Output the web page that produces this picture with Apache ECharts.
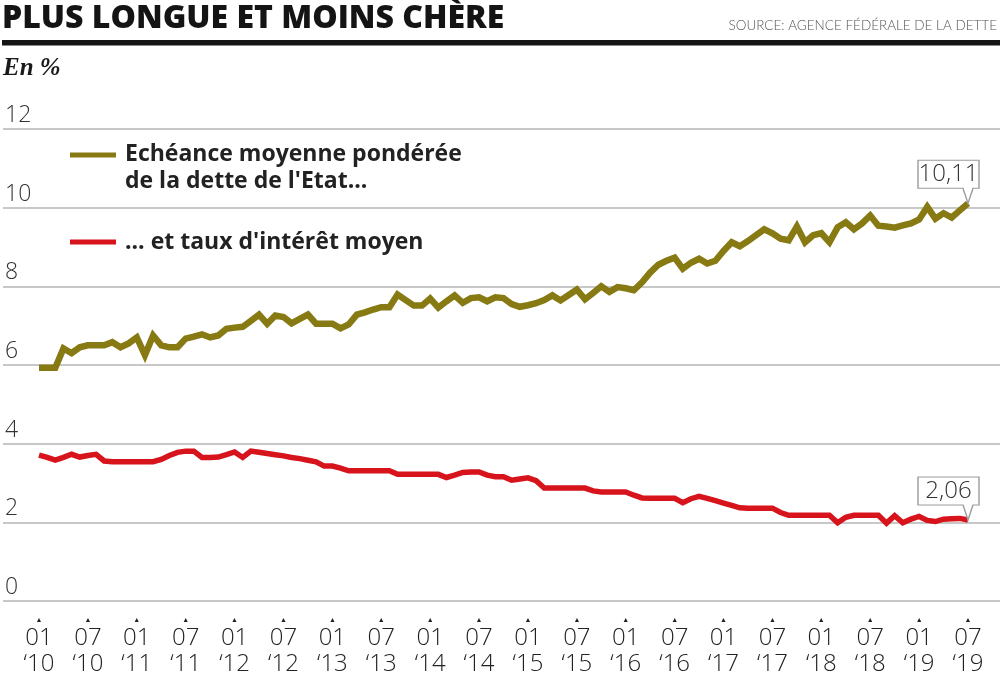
<!DOCTYPE html>
<html><head><meta charset="utf-8">
<script src="https://cdn.jsdelivr.net/npm/echarts@6/dist/echarts.min.js"></script>
<style>html,body{margin:0;padding:0;background:#fff}#c{width:1000px;height:682px}</style>
</head><body><div id="c"></div>
<script>
// ---- data ----
const startYear = 2010;
const monthCount = 115; // Jan 2010 .. Jul 2019
const maturity = [
  5.93, 5.93, 5.93, 6.42, 6.30, 6.45, 6.50, 6.50, 6.50, 6.58,
  6.45, 6.55, 6.70, 6.25, 6.75, 6.50, 6.45, 6.45, 6.67, 6.72,
  6.78, 6.70, 6.75, 6.92, 6.95, 6.97, 7.12, 7.28, 7.05, 7.26,
  7.22, 7.06, 7.17, 7.28, 7.05, 7.05, 7.05, 6.93, 7.03, 7.28,
  7.34, 7.41, 7.47, 7.47, 7.79, 7.65, 7.51, 7.51, 7.69, 7.46,
  7.62, 7.77, 7.58, 7.70, 7.72, 7.62, 7.72, 7.70, 7.55, 7.48,
  7.52, 7.57, 7.65, 7.77, 7.64, 7.78, 7.92, 7.67, 7.83, 8.00,
  7.86, 7.98, 7.95, 7.90, 8.10, 8.35, 8.55, 8.65, 8.73, 8.45,
  8.60, 8.70, 8.58, 8.65, 8.90, 9.12, 9.02, 9.15, 9.30, 9.45,
  9.35, 9.21, 9.17, 9.52, 9.12, 9.30, 9.35, 9.12, 9.50, 9.63,
  9.45, 9.60, 9.80, 9.54, 9.52, 9.49, 9.55, 9.60, 9.70, 10.02,
  9.72, 9.86, 9.75, 9.93, 10.11
];
const rate = [
  3.71, 3.65, 3.58, 3.65, 3.73, 3.66, 3.70, 3.73, 3.56, 3.54,
  3.54, 3.54, 3.54, 3.54, 3.54, 3.60, 3.70, 3.78, 3.81, 3.81,
  3.65, 3.65, 3.66, 3.72, 3.79, 3.65, 3.81, 3.78, 3.75, 3.72,
  3.69, 3.65, 3.62, 3.58, 3.54, 3.43, 3.43, 3.38, 3.31, 3.31,
  3.31, 3.31, 3.31, 3.31, 3.22, 3.22, 3.22, 3.22, 3.22, 3.22,
  3.14, 3.20, 3.27, 3.28, 3.28, 3.20, 3.16, 3.16, 3.07, 3.10,
  3.13, 3.06, 2.87, 2.87, 2.87, 2.87, 2.87, 2.87, 2.80, 2.77,
  2.77, 2.77, 2.77, 2.69, 2.62, 2.61, 2.61, 2.61, 2.61, 2.50,
  2.60, 2.66, 2.61, 2.55, 2.49, 2.43, 2.37, 2.36, 2.36, 2.36,
  2.36, 2.25, 2.18, 2.18, 2.18, 2.18, 2.18, 2.18, 1.99, 2.13,
  2.18, 2.18, 2.18, 2.18, 1.98, 2.17, 1.99, 2.08, 2.15, 2.05,
  2.02, 2.08, 2.09, 2.10, 2.06
];
const seriesNames = ["Echéance moyenne pondérée\nde la dette de l'Etat...", "... et taux d'intérêt moyen"];
const seriesColors = ['#877a12', '#d7131c'];
const yMin = 0, yMax = 12, yStep = 2;
const labelEvery = 6;
const titleText = 'PLUS LONGUE ET MOINS CHÈRE';
const sourceText = 'SOURCE: AGENCE FÉDÉRALE DE LA DETTE';
const unitText = 'En %';

const months = [];
for (let i = 0; i < monthCount; i++) {
  const y = startYear + Math.floor(i / 12);
  const m = (i % 12) + 1;
  months.push(String(m).padStart(2, '0') + '|' + String(y).slice(2));
}

const numFont = "'Open Sans', sans-serif";
const calloutPath = 'path://M0,0H61V28H55L50,43L45,28H0Z';

function callout(value) {
  return {
    symbol: calloutPath,
    symbolSize: [61, 43],
    symbolKeepAspect: false,
    symbolOffset: [-19.5, -21.5],
    silent: true,
    itemStyle: { color: '#fff', borderColor: '#9c9c9c', borderWidth: 1.2 },
    label: {
      show: true, position: 'inside', offset: [0, -7.5],
      formatter: () => value.toFixed(2).replace('.', ','),
      fontFamily: numFont, fontWeight: 300, fontSize: 24, color: '#333'
    },
    data: [{ coord: [monthCount - 1, value] }]
  };
}

const chart = echarts.init(document.getElementById('c'), null, { renderer: 'canvas' });
chart.setOption({
  animation: false,
  backgroundColor: '#fff',
  grid: [
    { left: 3, right: 0, top: 129, bottom: 81 },
    { left: 39, right: 32, top: 129, bottom: 81 }
  ],
  xAxis: [
    { gridIndex: 0, type: 'value', min: 0, max: 1, show: false },
    {
      gridIndex: 1, type: 'category', boundaryGap: false, data: months,
      axisLine: { show: false }, axisTick: { show: false }, splitLine: { show: false },
      axisLabel: {
        interval: (i) => i % labelEvery === 0,
        margin: 14,
        formatter: (v) => { const p = v.split('|'); return '{t|▲}\n{a|' + p[0] + '}\n{a|‘' + p[1] + '}'; },
        rich: {
          t: { fontSize: 7, lineHeight: 10, color: '#222', align: 'center' },
          a: { fontFamily: numFont, fontWeight: 300, fontSize: 24, lineHeight: 26, color: '#222', align: 'center' }
        }
      }
    }
  ],
  yAxis: [
    {
      gridIndex: 0, type: 'value', min: yMin, max: yMax, interval: yStep,
      axisLine: { show: false }, axisTick: { show: false },
      splitLine: { show: true, lineStyle: { color: '#b6b6b6', width: 1.5 } },
      axisLabel: {
        inside: true, margin: 2, align: 'left', verticalAlign: 'bottom',
        fontFamily: numFont, fontWeight: 300, fontSize: 23, color: '#333', padding: [0, 0, 2, 0]
      }
    },
    { gridIndex: 1, type: 'value', min: yMin, max: yMax, interval: yStep, show: false }
  ],
  series: [
    {
      name: seriesNames[0], type: 'line', xAxisIndex: 1, yAxisIndex: 1, data: maturity,
      symbol: 'none', lineStyle: { color: seriesColors[0], width: 6.5, join: 'miter', miterLimit: 3 },
      itemStyle: { color: seriesColors[0] },
      markPoint: callout(maturity[maturity.length - 1])
    },
    {
      name: seriesNames[1], type: 'line', xAxisIndex: 1, yAxisIndex: 1, data: rate,
      symbol: 'none', lineStyle: { color: seriesColors[1], width: 5.5, join: 'miter', miterLimit: 3 },
      itemStyle: { color: seriesColors[1] },
      markPoint: callout(rate[rate.length - 1])
    }
  ],
  graphic: [
    { type: 'text', left: 2, top: 3, style: { text: titleText, fontFamily: "'Open Sans', sans-serif", fontWeight: 800, fontSize: 32, fill: '#141414' } },
    { type: 'text', right: 3, top: 19, style: { text: sourceText, fontFamily: "'Lato', sans-serif", fontWeight: 300, fontSize: 13.5, fill: '#555' } },
    { type: 'rect', shape: { x: 2, y: 40, width: 998, height: 5.5 }, style: { fill: '#151515' } },
    { type: 'text', left: 3, top: 56, style: { text: unitText, fontFamily: "'Liberation Serif', serif", fontWeight: 'bold', fontStyle: 'italic', fontSize: 25, fill: '#1a1a1a' } },
    { type: 'rect', shape: { x: 70, y: 152.5, width: 46, height: 5 }, style: { fill: seriesColors[0] } },
    { type: 'text', x: 125, y: 141, style: { text: seriesNames[0], fontFamily: "'Open Sans', sans-serif", fontWeight: 700, fontSize: 23, lineHeight: 27, fill: '#222', verticalAlign: 'top' } },
    { type: 'rect', shape: { x: 70, y: 239.5, width: 46, height: 5 }, style: { fill: seriesColors[1] } },
    { type: 'text', x: 125, y: 242, style: { text: seriesNames[1], fontFamily: "'Open Sans', sans-serif", fontWeight: 700, fontSize: 23, fill: '#222', verticalAlign: 'middle' } }
  ]
});
</script>
</body></html>
